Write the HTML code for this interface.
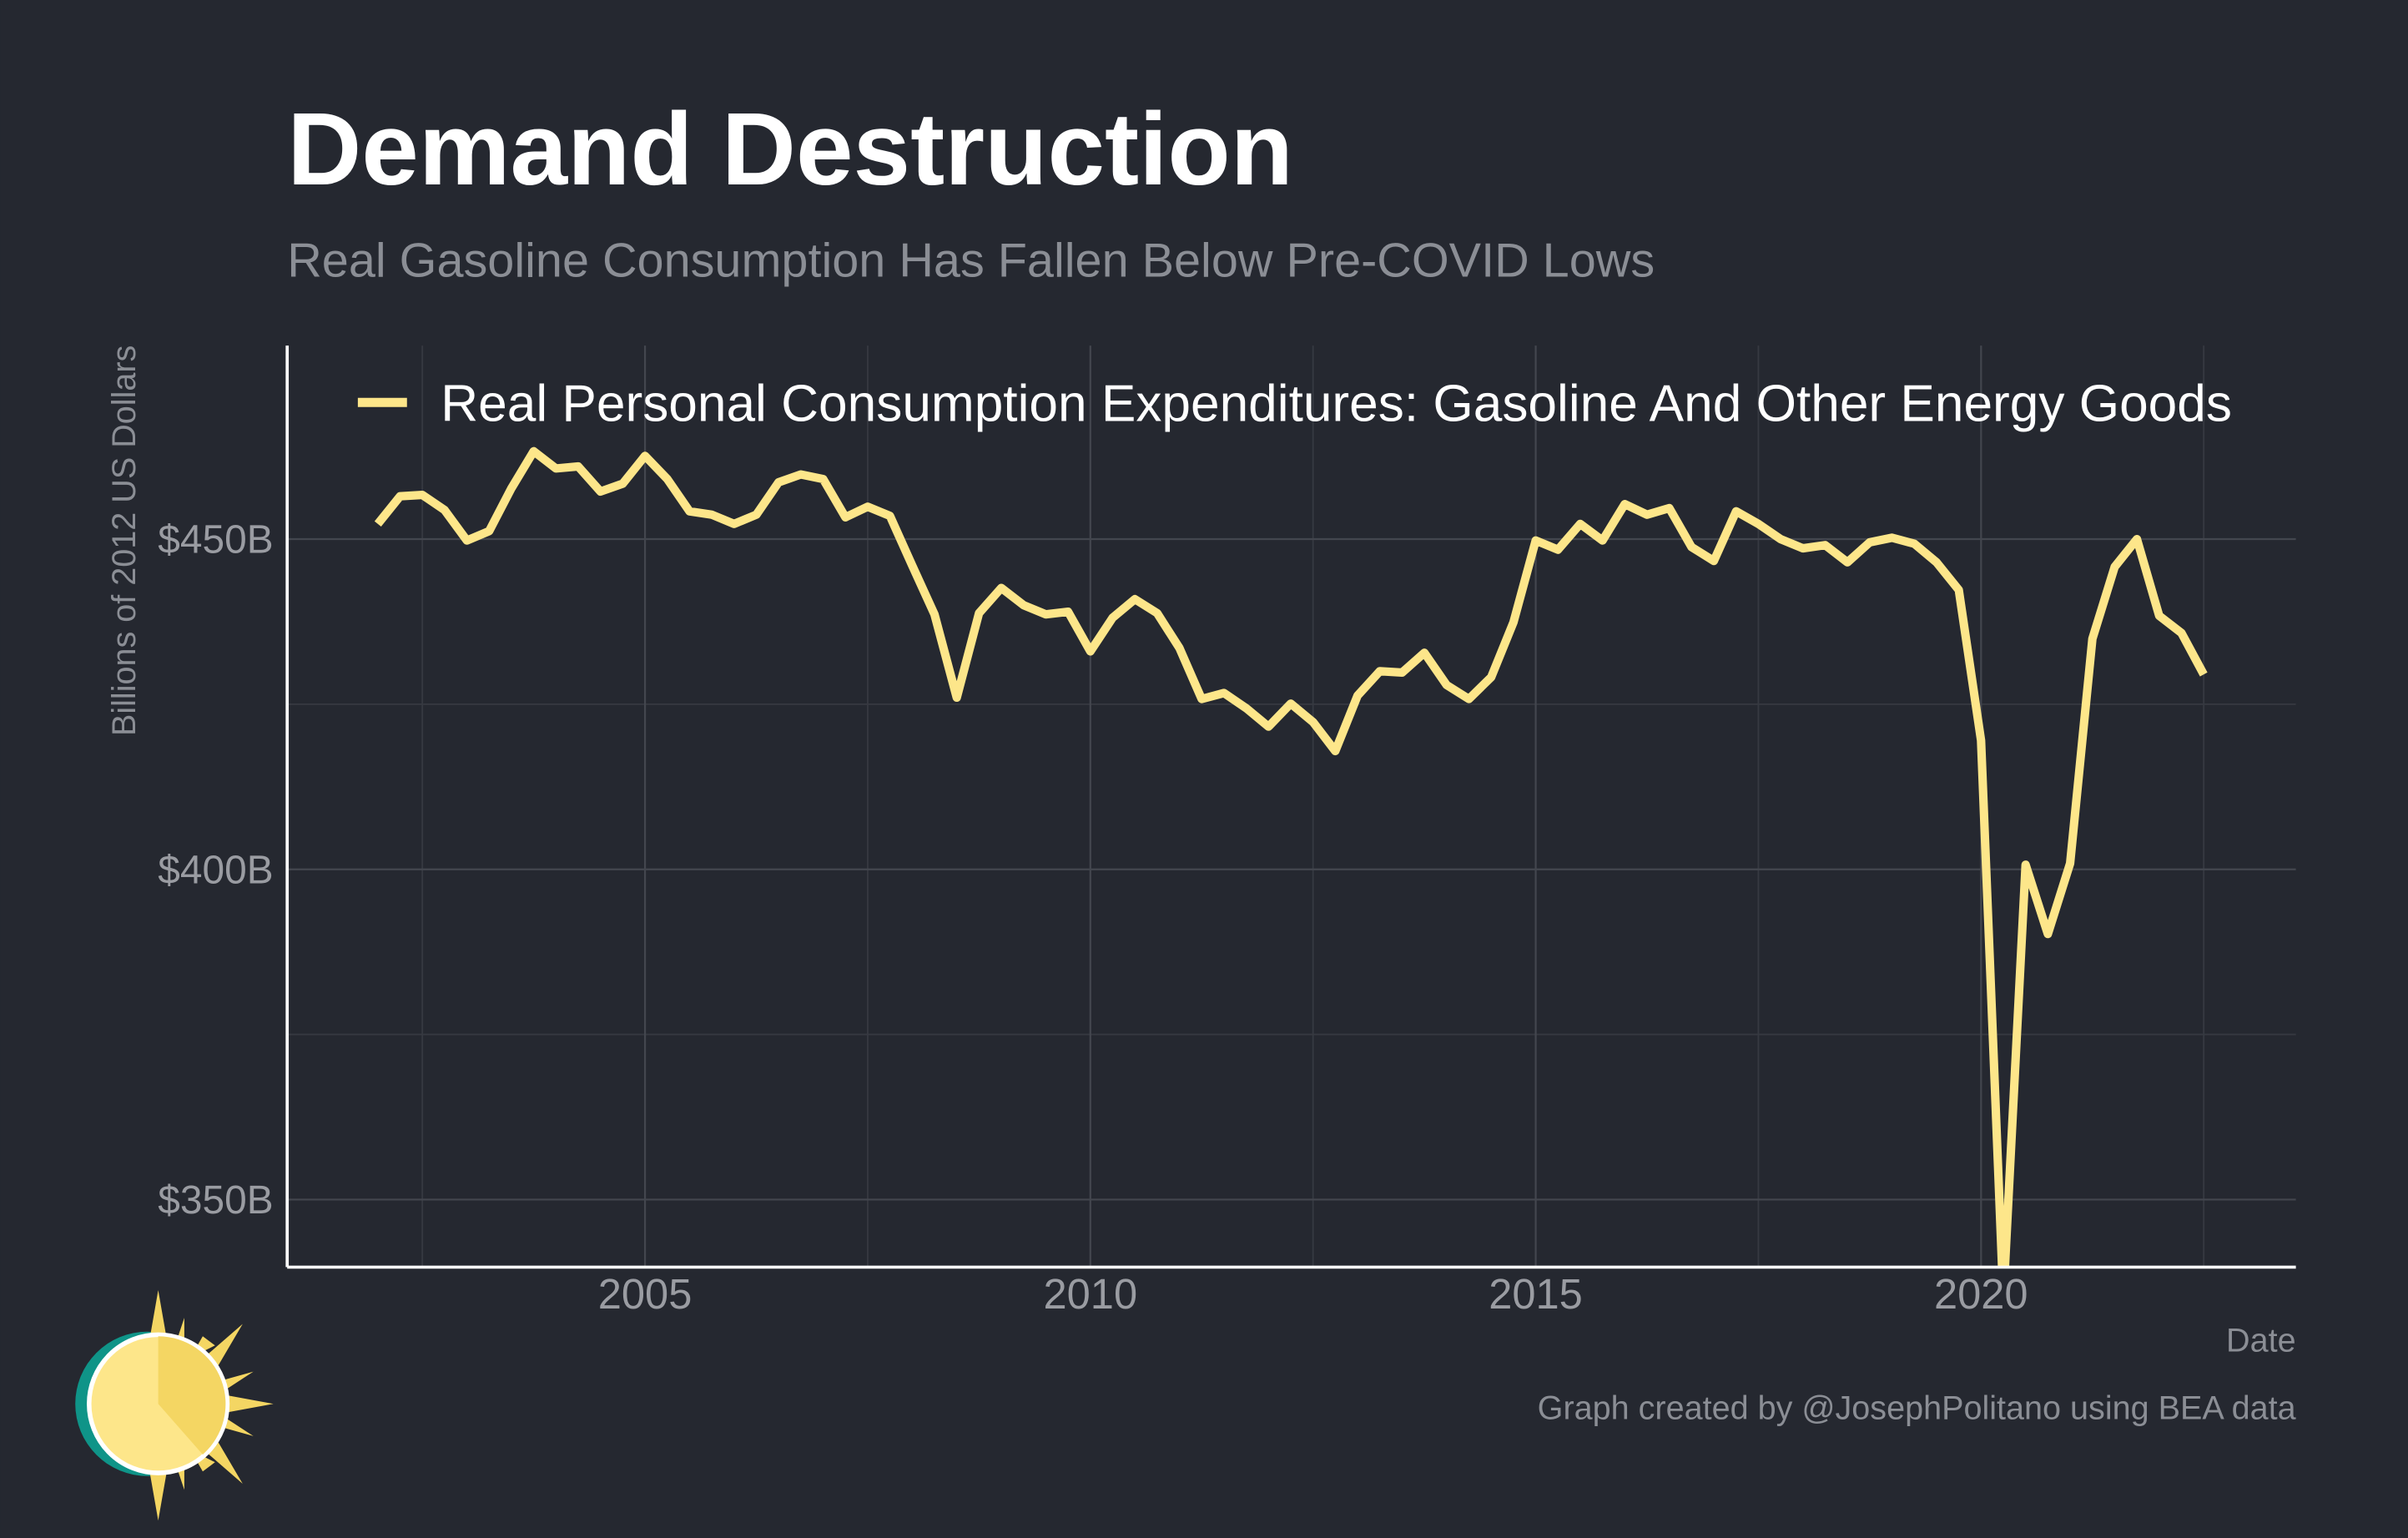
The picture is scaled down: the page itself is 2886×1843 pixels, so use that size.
<!DOCTYPE html>
<html><head><meta charset="utf-8"><style>html,body{margin:0;padding:0;background:#252830}svg{display:block}</style></head>
<body>
<svg id="chart" width="2886" height="1843" viewBox="0 0 1568 1001.35" xmlns="http://www.w3.org/2000/svg" font-family="'Liberation Sans', sans-serif">
<rect width="1568" height="1002" fill="#252830"/>
<text x="187" y="120" font-size="67" font-weight="bold" fill="#ffffff">Demand Destruction</text>
<text x="187" y="180" font-size="31.3" fill="#8b8e95">Real Gasoline Consumption Has Fallen Below Pre-COVID Lows</text>
<g id="grid"></g>
<g id="axes"></g>
<clipPath id="clip"><rect x="187" y="225" width="1308" height="600"/></clipPath>
<g clip-path="url(#clip)"><path id="series" fill="none" stroke="#fde68a" stroke-width="5.5" stroke-linejoin="round"/></g>
<line x1="187" y1="225" x2="187" y2="825" stroke="#fff" stroke-width="2"/>
<line x1="187" y1="825" x2="1495" y2="825" stroke="#fff" stroke-width="2"/>
<g>
<line x1="233" y1="262" x2="265" y2="262" stroke="#fde68a" stroke-width="6"/>
<text x="287" y="274" font-size="33.8" fill="#ffffff">Real Personal Consumption Expenditures: Gasoline And Other Energy Goods</text>
</g>
<text transform="translate(88,352) rotate(-90)" text-anchor="middle" font-size="21.5" fill="#8b8e95">Billions of 2012 US Dollars</text>
<text x="1495" y="880" text-anchor="end" font-size="21.5" fill="#8b8e95">Date</text>
<text x="1495" y="924" text-anchor="end" font-size="21.5" fill="#8b8e95">Graph created by @JosephPolitano using BEA data</text>
<g>
<circle cx="96" cy="914" r="47" fill="#0f9488"/>
<g fill="#f4d663">
<polygon points="103,840 110,880 96,880"/>
<polygon points="103,990 96,950 110,950"/>
<polygon points="178,914 140,907 140,921"/>
<polygon points="158,862 128,888 138,896"/>
<polygon points="158,966 138,932 128,940"/>
<polygon points="140,876 124,884 132,870"/>
<polygon points="140,952 132,958 124,944"/>
<polygon points="120,858 112,882 120,884"/>
<polygon points="120,970 120,944 112,946"/>
<polygon points="165,893 140,900 142,908"/>
<polygon points="165,935 142,920 140,928"/>
</g>
<circle cx="103" cy="914" r="45" fill="#fde68a" stroke="#fff" stroke-width="3"/>
<path d="M103,914 L103,870 A44,44 0 0 1 132,947 Z" fill="#f4d663"/>
</g>
<script>
var yTicks=[350,400,450];
var yTickLabels=["$350B","$400B","$450B"];
var yMinor=[375,425];
var xTicks=[2005,2010,2015,2020];
var xMinor=[2002.5,2007.5,2012.5,2017.5,2022.5];
var startYear=2002;
var values=[452.3,456.5,456.7,454.4,449.8,451.2,457.7,463.3,460.7,461,457.2,458.4,462.6,459.1,454.2,453.7,452.3,453.7,458.6,459.8,459.1,453.3,454.9,453.5,446,438.6,426,438.8,442.6,440,438.6,439,433,438.1,440.9,438.8,433.5,425.8,426.7,424.4,421.6,425.1,422.3,417.9,426.3,430,429.8,432.8,427.9,425.8,429.1,437.4,449.8,448.4,452.3,449.8,455.3,453.7,454.7,448.8,446.7,454.2,452.3,450,448.6,449.1,446.5,449.5,450.2,449.3,446.5,442.3,419.5,335,400.7,390.2,400.9,434.9,445.8,450,438.4,435.8,429.5];
function X(t){return 420+(t-2005)*58;}
function Y(v){return 351+(450-v)*4.3;}
var NS="http://www.w3.org/2000/svg";
var grid=document.getElementById('grid'),axes=document.getElementById('axes');
function ln(x1,y1,x2,y2,c,w){var l=document.createElementNS(NS,'line');l.setAttribute('x1',x1);l.setAttribute('y1',y1);l.setAttribute('x2',x2);l.setAttribute('y2',y2);l.setAttribute('stroke',c);l.setAttribute('stroke-width',w);grid.appendChild(l);return l;}
yMinor.forEach(function(v){var l=ln(187,Y(v),1495,Y(v),'#363941',1);

});
xMinor.forEach(function(t){var l=ln(X(t),225,X(t),825,'#363941',1);

});
yTicks.forEach(function(v,i){var l=ln(187,Y(v),1495,Y(v),'#43464e',1.2);


var t=document.createElementNS(NS,'text');t.setAttribute('x',178);t.setAttribute('y',Y(v)+9);t.setAttribute('text-anchor','end');t.setAttribute('font-size','26');t.setAttribute('fill','#9a9ca2');t.textContent=yTickLabels[i];


axes.appendChild(t);});
xTicks.forEach(function(y){var l=ln(X(y),225,X(y),825,'#43464e',1.2);


var t=document.createElementNS(NS,'text');t.setAttribute('x',X(y));t.setAttribute('y',852);t.setAttribute('text-anchor','middle');t.setAttribute('font-size','27.5');t.setAttribute('fill','#9a9ca2');t.textContent=y;


axes.appendChild(t);});
var d=values.map(function(v,i){return (i?'L':'M')+X(startYear+i*0.25).toFixed(1)+','+Y(v).toFixed(1);}).join(' ');
document.getElementById('series').setAttribute('d',d);
</script>
</svg>
</body></html>
